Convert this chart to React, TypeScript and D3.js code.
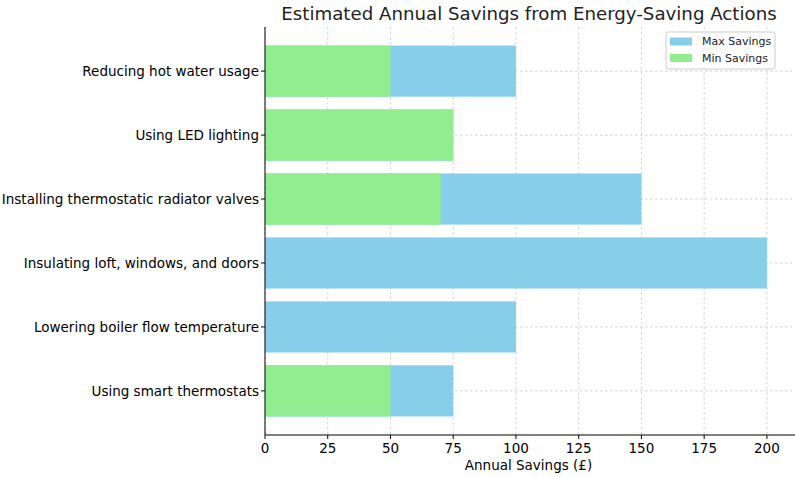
import React from "react";
import * as d3 from "d3";

const categories = [
  "Using smart thermostats",
  "Lowering boiler flow temperature",
  "Insulating loft, windows, and doors",
  "Installing thermostatic radiator valves",
  "Using LED lighting",
  "Reducing hot water usage",
];
const maxSavings = [75, 100, 200, 150, 75, 100];
const minSavings = [50, 0, 0, 70, 75, 50];
const xTicks = [0, 25, 50, 75, 100, 125, 150, 175, 200];

const W = 795;
const H = 477;
const left = 265;
const right = 792;
const top = 27;
const bottom = 435;
const FONT = "DejaVu Sans, sans-serif";
const BLUE = "#87ceeb";
const GREEN = "#90ee90";
const FS = 13.5;

export default function App() {
  const x = d3.scaleLinear().domain([0, 210]).range([left, right]);
  const y = d3.scaleLinear().domain([-0.69, 5.69]).range([bottom, top]);
  const bh = y(0) - y(0.8);
  return (
    <svg width={W} height={H} style={{ position: "absolute", left: 0, top: 0 }} fontFamily={FONT}>
      <rect width={W} height={H} fill="white" />
      {xTicks.map((t) => (
        <line key={"gx" + t} x1={x(t)} x2={x(t)} y1={top} y2={bottom} stroke="#b0b0b0" strokeWidth={0.8} strokeDasharray="2.5,2.5" opacity={0.7} />
      ))}
      {categories.map((c, i) => (
        <line key={"gy" + i} x1={left} x2={right} y1={y(i)} y2={y(i)} stroke="#b0b0b0" strokeWidth={0.8} strokeDasharray="2.5,2.5" opacity={0.7} />
      ))}
      {categories.map((c, i) => (
        <rect key={"mx" + i} x={x(0)} y={y(i) - bh / 2} width={x(maxSavings[i]) - x(0)} height={bh} fill={BLUE} />
      ))}
      {categories.map((c, i) => (
        <rect key={"mn" + i} x={x(0)} y={y(i) - bh / 2} width={x(minSavings[i]) - x(0)} height={bh} fill={GREEN} />
      ))}
      <line x1={left} x2={left} y1={top} y2={bottom} stroke="black" strokeWidth={1} />
      <line x1={left} x2={right + 3} y1={bottom} y2={bottom} stroke="black" strokeWidth={1} />
      {xTicks.map((t) => (
        <g key={"xt" + t}>
          <line x1={x(t)} x2={x(t)} y1={bottom} y2={bottom + 4} stroke="black" />
          <text x={x(t)} y={bottom + 18} fontSize={FS} textAnchor="middle" fill="black">{t}</text>
        </g>
      ))}
      {categories.map((c, i) => (
        <g key={"yt" + i}>
          <line x1={left - 4} x2={left} y1={y(i)} y2={y(i)} stroke="black" />
          <text x={left - 6} y={y(i)} dy="0.35em" fontSize={FS} textAnchor="end" fill="black">{c}</text>
        </g>
      ))}
      <text x={(left + right) / 2} y={bottom + 35} fontSize={FS} textAnchor="middle" fill="black">Annual Savings (£)</text>
      <text x={529} y={20} fontSize={18.2} textAnchor="middle" fill="#222">Estimated Annual Savings from Energy-Saving Actions</text>
      <g>
        <rect x={666} y={32} width={109} height={37} rx={2} fill="white" fillOpacity={0.8} stroke="#ccc" />
        <rect x={670} y={37.5} width={22} height={8} fill={BLUE} />
        <text x={702} y={41.5} dy="0.35em" fontSize={11} fill="#222">Max Savings</text>
        <rect x={670} y={54} width={22} height={8} fill={GREEN} />
        <text x={702} y={58} dy="0.35em" fontSize={11} fill="#222">Min Savings</text>
      </g>
    </svg>
  );
}
